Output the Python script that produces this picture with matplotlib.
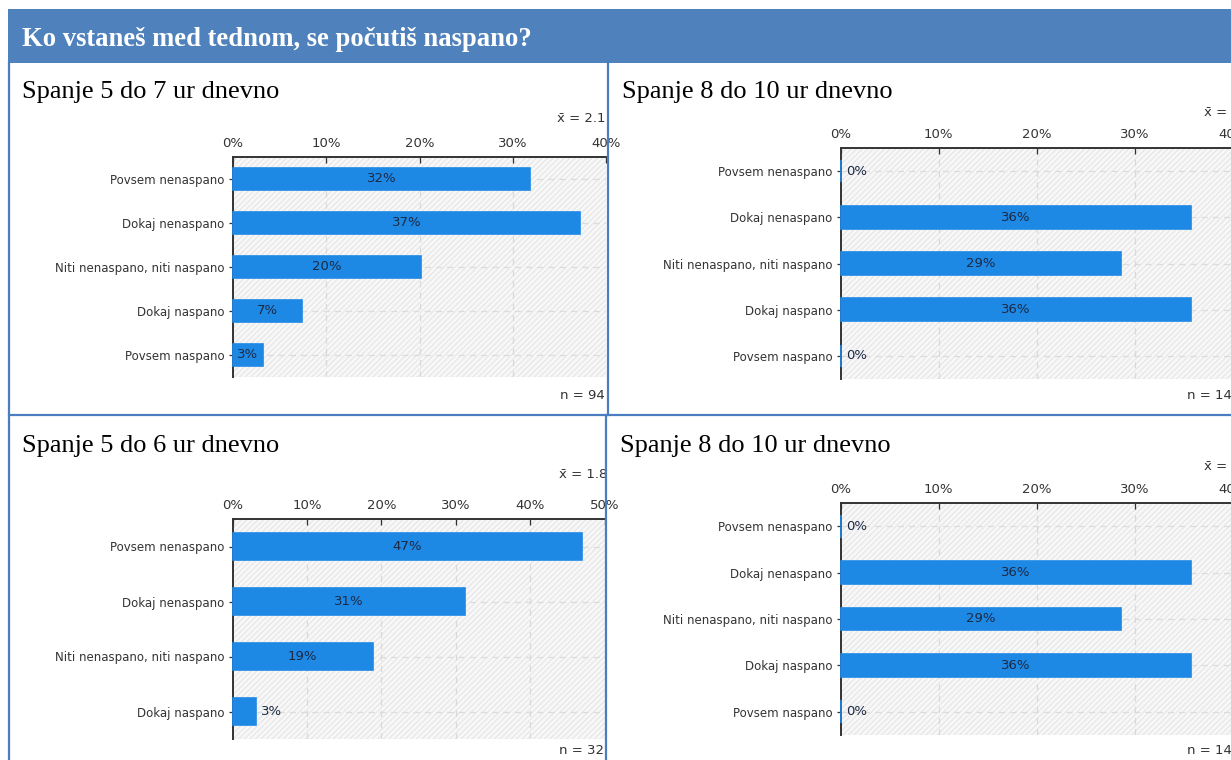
import matplotlib
matplotlib.use("Agg")
import matplotlib.pyplot as plt
from matplotlib.patches import Rectangle
from matplotlib.lines import Line2D

# ---------------- data ----------------
header_title = "Ko vstaneš med tednom, se počutiš naspano?"

titles = ["Spanje 5 do 7 ur dnevno", "Spanje 8 do 10 ur dnevno",
          "Spanje 5 do 6 ur dnevno", "Spanje 8 do 10 ur dnevno"]

cats5 = ["Povsem nenaspano", "Dokaj nenaspano", "Niti nenaspano, niti naspano",
         "Dokaj naspano", "Povsem naspano"]
cats4 = ["Povsem nenaspano", "Dokaj nenaspano", "Niti nenaspano, niti naspano",
         "Dokaj naspano"]

vals_tl = [31.9, 37.2, 20.2, 7.4, 3.2]
vals_tr = [0.0, 35.7, 28.6, 35.7, 0.0]
vals_bl = [46.9, 31.2, 18.8, 3.1]
vals_br = [0.0, 35.7, 28.6, 35.7, 0.0]

n_tl, n_tr, n_bl, n_br = 94, 14, 32, 14
mean_tl, mean_tr, mean_bl, mean_br = "2.1", "3.0", "1.8", "3.0"

xticks_40 = [0, 10, 20, 30, 40]
xticks_50 = [0, 10, 20, 30, 40, 50]

# ---------------- layout ----------------
W, H = 1231, 760
fig = plt.figure(figsize=(W / 100, H / 100), dpi=100)
fig.patch.set_facecolor("white")

def fx(x):
    return x / W

def fy(y):
    return 1 - y / H

BLUE_HDR = "#4F81BD"
BORDER = "#4A7EC0"
BAR = "#1E88E5"
TXT = "#333333"
LBL = "#1b2a44"
FONT = "DejaVu Sans"
SERIF = "Liberation Serif"
NUM_FS = 9.5
CAT_FS = 8.5

# header bar
fig.add_artist(Rectangle((fx(8), fy(63)), fx(W) - fx(8), fy(9) - fy(63),
                         transform=fig.transFigure, facecolor=BLUE_HDR,
                         edgecolor="none", zorder=0))
fig.text(fx(22), fy(40), header_title, color="white", fontsize=19.2,
         fontweight="bold", family=SERIF, va="center", ha="left")

# table borders
def vline(x, y0, y1):
    fig.add_artist(Line2D([fx(x), fx(x)], [fy(y0), fy(y1)],
                          transform=fig.transFigure, color=BORDER, lw=1.6, zorder=5))

def hline(y, x0, x1):
    fig.add_artist(Line2D([fx(x0), fx(x1)], [fy(y), fy(y)],
                          transform=fig.transFigure, color=BORDER, lw=1.6, zorder=5))

vline(9, 62, 760)
vline(608, 62, 415)
vline(606, 415, 760)
hline(415, 9, W)

# panel titles
title_pos = [(22, 92), (622, 92), (22, 446), (620, 446)]
for t, (x, y) in zip(titles, title_pos):
    fig.text(fx(x), fy(y), t, fontsize=19, family=SERIF, color="black",
             va="center", ha="left")


def panel(x0, x1, y0, y1, xmax, ticks, cats, vals, n, mean, mean_x, mean_y, n_y):
    ax = fig.add_axes([fx(x0), fy(y1), fx(x1) - fx(x0), fy(y0) - fy(y1)])
    ax.set_facecolor("none")
    k = len(cats)
    ax.set_xlim(0, xmax)
    ax.set_ylim(k - 0.5, -0.5)
    # hatched background
    ax.add_patch(Rectangle((0, -0.5), xmax, k, facecolor="#f8f8f8",
                           edgecolor="#e8e8e8", hatch="//////", lw=0, zorder=0))
    for t in ticks[1:]:
        ax.axvline(t, color="#d9d9d9", lw=0.9, ls=(0, (5, 4)), zorder=1)
    for i in range(k):
        ax.axhline(i, color="#dcdcdc", lw=0.9, ls=(0, (5, 4)), zorder=1)
    ax.axhline(k - 0.5, color="#dedede", lw=0.9, ls=(0, (3, 2)), zorder=1)

    ax.barh(range(k), vals, height=0.49, color=BAR, edgecolor=BAR, lw=1.2,
            zorder=6, clip_on=False)

    axw = (x1 - x0)
    for i, v in enumerate(vals):
        lab = f"{round(v):d}%"
        wpx = v / xmax * axw
        if wpx >= 28:
            ax.text(v / 2, i, lab, ha="center", va="center", fontsize=NUM_FS,
                    color=LBL, family=FONT, zorder=7)
        else:
            ax.annotate(lab, (v, i), xytext=(4, 0), textcoords="offset points",
                        ha="left", va="center", fontsize=NUM_FS, color=LBL,
                        family=FONT, zorder=7)

    ax.xaxis.tick_top()
    ax.set_xticks(ticks)
    ax.set_xticklabels([f"{t}%" for t in ticks])
    ax.set_yticks(range(k))
    ax.set_yticklabels(cats)
    ax.tick_params(axis="x", direction="in", length=4, width=0.9, pad=5,
                   labelsize=NUM_FS, colors=TXT, labelcolor=TXT)
    ax.tick_params(axis="y", direction="out", length=3, width=0.9, pad=3,
                   labelsize=CAT_FS, colors=TXT, labelcolor=TXT)
    for lab in ax.get_xticklabels() + ax.get_yticklabels():
        lab.set_family(FONT)
    for s in ["right", "bottom"]:
        ax.spines[s].set_visible(False)
    for s in ["left", "top"]:
        ax.spines[s].set_color("#333333")
        ax.spines[s].set_linewidth(1.4)
        ax.spines[s].set_zorder(5)

    fig.text(fx(mean_x), fy(mean_y), "x\u0304 = " + mean, fontsize=NUM_FS,
             family=FONT, color=TXT, ha="left", va="center")
    fig.text(fx(x1 - 1), fy(n_y), f"n = {n}", fontsize=NUM_FS, family=FONT,
             color=TXT, ha="right", va="center")
    return ax


panel(233, 606, 157, 377, 40, xticks_40, cats5, vals_tl, n_tl, mean_tl, 557, 118, 396)
panel(840.6, 1233, 148, 379, 40, xticks_40, cats5, vals_tr, n_tr, mean_tr, 1204, 113, 396)
panel(232.5, 605, 519, 739, 50, xticks_50, cats4, vals_bl, n_bl, mean_bl, 559, 474, 751)
panel(840.6, 1233, 503, 735, 40, xticks_40, cats5, vals_br, n_br, mean_br, 1204, 467, 751)

fig.savefig("out.png", dpi=100, facecolor="white")
